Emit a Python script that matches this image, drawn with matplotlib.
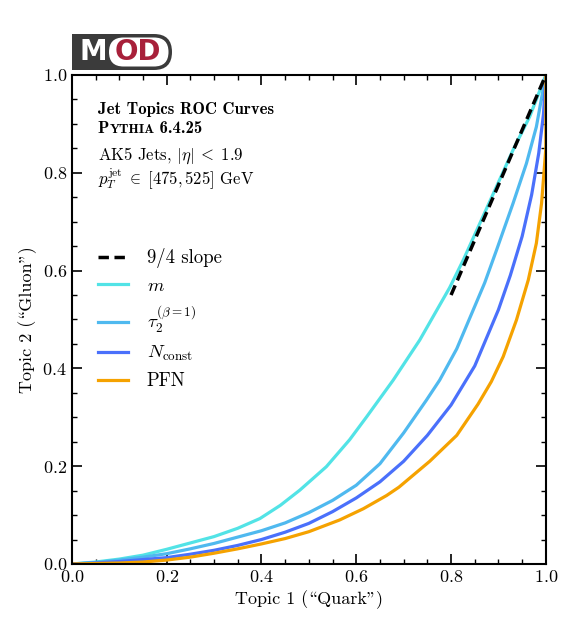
import numpy as np
import matplotlib
matplotlib.use("Agg")
import matplotlib.pyplot as plt
from matplotlib.patches import FancyBboxPatch, Rectangle
from matplotlib.ticker import MultipleLocator

plt.rcParams['font.family'] = ['cmr10', 'DejaVu Serif']
plt.rcParams['mathtext.fontset'] = 'cm'
plt.rcParams['axes.unicode_minus'] = False
plt.rcParams['axes.formatter.use_mathtext'] = True

# ROC curves: (Topic 1 fraction, Topic 2 fraction)
m_x = [0, 0.05, 0.1, 0.15, 0.2, 0.25, 0.3, 0.35, 0.397, 0.44, 0.481, 0.537, 0.586, 0.622,
       0.678, 0.734, 0.797, 0.826, 0.861, 0.896, 0.931, 0.966, 1.0]
m_y = [0, 0.004, 0.010, 0.018, 0.030, 0.043, 0.056, 0.073, 0.093, 0.120, 0.151, 0.199, 0.254, 0.301,
       0.376, 0.458, 0.565, 0.622, 0.697, 0.772, 0.847, 0.915, 1.0]

tau_x = [0, 0.05, 0.1, 0.15, 0.2, 0.25, 0.3, 0.35, 0.4, 0.45, 0.5, 0.55, 0.6, 0.65,
         0.7, 0.748, 0.776, 0.812, 0.847, 0.871, 0.896, 0.931, 0.959, 0.98, 0.994, 1.0]
tau_y = [0, 0.003, 0.008, 0.014, 0.021, 0.031, 0.042, 0.055, 0.068, 0.084, 0.105, 0.130, 0.161, 0.205,
         0.268, 0.335, 0.376, 0.440, 0.520, 0.575, 0.642, 0.738, 0.819, 0.894, 0.969, 1.0]

n_x = [0, 0.05, 0.1, 0.15, 0.2, 0.25, 0.3, 0.35, 0.4, 0.45, 0.5, 0.55, 0.6, 0.65, 0.7,
       0.75, 0.8, 0.85, 0.9, 0.925, 0.95, 0.97, 0.985, 0.995, 1.0]
n_y = [0, 0.002, 0.005, 0.009, 0.013, 0.020, 0.028, 0.038, 0.050, 0.065, 0.083, 0.107, 0.135, 0.168, 0.210,
       0.263, 0.325, 0.405, 0.520, 0.590, 0.670, 0.755, 0.840, 0.920, 1.0]

pfn_x = [0, 0.1, 0.15, 0.2, 0.25, 0.3, 0.35, 0.4, 0.45, 0.5, 0.565, 0.615, 0.664, 0.69, 0.755,
         0.812, 0.857, 0.885, 0.91, 0.938, 0.963, 0.98, 0.991, 0.996, 1.0, 1.0]
pfn_y = [0, 0.002, 0.004, 0.008, 0.014, 0.022, 0.031, 0.041, 0.052, 0.066, 0.090, 0.113, 0.140, 0.157, 0.210,
         0.263, 0.327, 0.373, 0.424, 0.499, 0.581, 0.656, 0.738, 0.800, 0.85, 1.0]

slope_x = [0.8, 1.0]
slope = 9 / 4

fig = plt.figure(figsize=(5.61, 6.18), dpi=100)
ax = fig.add_axes([0.128, 0.0874, 0.845, 0.7913])

ax.plot(slope_x, [1 - slope * (1 - x) for x in slope_x], '--', color='black', lw=2.5,
        dashes=(3, 1.6), label='9/4 slope', zorder=5)
ax.plot(m_x, m_y, color='#52e3e6', lw=2.3, label=r'$m$')
ax.plot(tau_x, tau_y, color='#4fb9ef', lw=2.3, label=r'$\tau_2^{(\beta=1)}$')
ax.plot(n_x, n_y, color='#4a70fb', lw=2.3, label=r'$N_{\mathrm{const}}$')
ax.plot(pfn_x, pfn_y, color='#f5a200', lw=2.3, label='PFN')

ax.set_xlim(0, 1)
ax.set_ylim(0, 1)
ax.xaxis.set_major_locator(MultipleLocator(0.2))
ax.yaxis.set_major_locator(MultipleLocator(0.2))
ax.xaxis.set_minor_locator(MultipleLocator(0.05))
ax.yaxis.set_minor_locator(MultipleLocator(0.05))
ax.tick_params(which='both', direction='in', top=True, right=True, labelsize=13)
ax.tick_params(which='major', length=7, width=1.2)
ax.tick_params(which='minor', length=3.5, width=1.0)
for s in ax.spines.values():
    s.set_linewidth(1.5)

# cmr10 keeps TeX's OT1 layout: '\' is the opening and '"' the closing double quote
ax.set_xlabel('Topic 1 (\\Quark")', fontsize=13)
ax.set_ylabel('Topic 2 (\\Gluon")', fontsize=13)

# text block
ax.text(0.055, 0.92, 'Jet Topics ROC Curves', transform=ax.transAxes, fontsize=12,
        family='cmb10', va='baseline')
t1 = ax.text(0.055, 0.875, 'P', transform=ax.transAxes, fontsize=12, family='cmb10', va='bottom')
t2 = ax.annotate('YTHIA', xy=(1, 0), xycoords=t1, fontsize=9.6, family='cmb10', va='bottom')
ax.annotate(' 6.4.25', xy=(1, 0), xycoords=t2, fontsize=12, family='cmb10', va='bottom')
ax.text(0.055, 0.826, r'AK5 Jets, $|\eta|\;<\;1.9$', transform=ax.transAxes, fontsize=12, va='baseline')
ax.text(0.055, 0.775, r'$p_T^{\mathrm{jet}}\;\in\;[475, 525]$ GeV', transform=ax.transAxes,
        fontsize=12, va='baseline')

ax.legend(loc='upper left', bbox_to_anchor=(0.02, 0.68), frameon=False, fontsize=13.5,
          handlelength=1.6, handletextpad=1.0, labelspacing=0.47)

# MOD logo, drawn in figure pixel space
lax = fig.add_axes([0, 0, 1, 1], zorder=10)
lax.set_xlim(0, 561)
lax.set_ylim(618, 0)
lax.axis('off')
lax.patch.set_alpha(0)
dark = '#3b3b3b'
lax.add_patch(FancyBboxPatch((72, 34), 100, 36, boxstyle='round,pad=0,rounding_size=18',
                             fc=dark, ec='none'))
lax.add_patch(Rectangle((72, 34), 30, 36, fc=dark, ec='none'))
lax.add_patch(FancyBboxPatch((109, 37.5), 59.5, 29, boxstyle='round,pad=0,rounding_size=14.5',
                             fc='white', ec='none'))
lax.text(93, 52.5, 'M', color='white', fontsize=20, fontweight='bold', family='DejaVu Sans',
         ha='center', va='center')
lax.text(138, 52.5, 'OD', color='#a8203a', fontsize=20, fontweight='bold', family='DejaVu Sans',
         ha='center', va='center')

fig.savefig('out.png', dpi=100)
